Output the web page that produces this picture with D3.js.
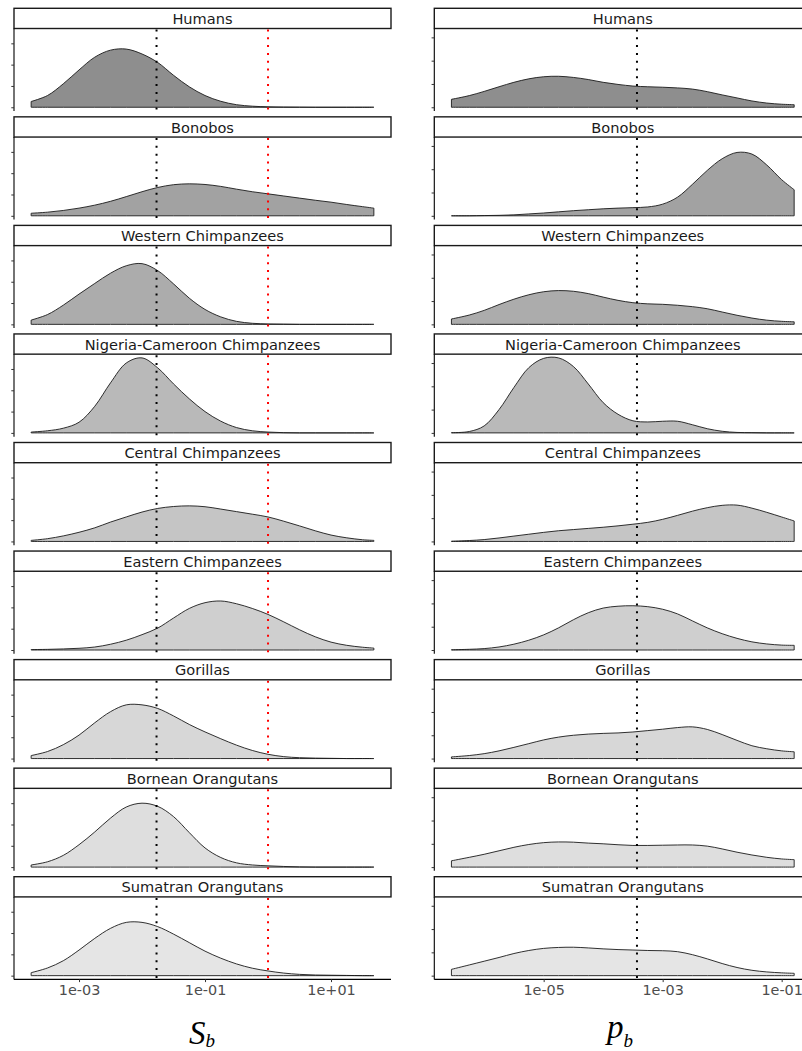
<!DOCTYPE html>
<html>
<head>
<meta charset="utf-8">
<script src="https://cdn.jsdelivr.net/npm/d3@7"></script>
<style>
  html, body { margin: 0; padding: 0; background: #fff; }
  svg { display: block; }
</style>
</head>
<body>
<svg id="chart" width="802" height="1051"></svg>
<script>
// ---------------- DATA ----------------
const populations = ["Humans", "Bonobos", "Western Chimpanzees", "Nigeria-Cameroon Chimpanzees",
  "Central Chimpanzees", "Eastern Chimpanzees", "Gorillas", "Bornean Orangutans", "Sumatran Orangutans"];

const fills = ["#8e8e8e", "#a2a2a2", "#acacac", "#b9b9b9", "#c5c5c5", "#cfcfcf", "#d7d7d7", "#dedede", "#e5e5e5"];

// log10 of S_b at which the density was read
const sbExp = [-3.76, -3.5, -3.25, -3, -2.75, -2.5, -2.25, -2, -1.75, -1.5, -1.25, -1, -0.75, -0.5, -0.25, 0, 0.25, 0.5, 0.75, 1, 1.25, 1.5, 1.68];

const sbHumans   = [0.27, 0.55, 1.1, 1.75, 2.35, 2.68, 2.73, 2.5, 2.1, 1.5, 0.96, 0.55, 0.28, 0.12, 0.05, 0.02, 0.01, 0.005, 0, 0, 0, 0, 0];
const sbBonobos  = [0.12, 0.17, 0.25, 0.36, 0.5, 0.68, 0.9, 1.13, 1.33, 1.46, 1.5, 1.47, 1.38, 1.25, 1.13, 1.03, 0.93, 0.83, 0.73, 0.64, 0.53, 0.43, 0.36];
const sbWestern  = [0.2, 0.46, 0.9, 1.42, 1.92, 2.4, 2.75, 2.85, 2.52, 1.9, 1.23, 0.7, 0.35, 0.14, 0.05, 0.02, 0.01, 0, 0, 0, 0, 0, 0];
const sbNigeria  = [0.04, 0.1, 0.22, 0.5, 1.25, 2.35, 3.28, 3.52, 3.05, 2.3, 1.6, 1.0, 0.55, 0.25, 0.1, 0.04, 0.01, 0, 0, 0, 0, 0, 0];
const sbCentral  = [0.05, 0.13, 0.26, 0.43, 0.64, 0.91, 1.15, 1.38, 1.55, 1.64, 1.67, 1.63, 1.52, 1.4, 1.28, 1.15, 0.95, 0.73, 0.5, 0.3, 0.17, 0.08, 0.05];
const sbEastern  = [0.02, 0.03, 0.05, 0.08, 0.14, 0.27, 0.46, 0.72, 1.03, 1.5, 1.95, 2.22, 2.3, 2.17, 1.95, 1.67, 1.32, 0.95, 0.62, 0.37, 0.22, 0.13, 0.09];
const sbGorillas = [0.14, 0.33, 0.65, 1.1, 1.68, 2.2, 2.52, 2.52, 2.35, 2.0, 1.6, 1.25, 0.93, 0.63, 0.38, 0.2, 0.09, 0.04, 0.02, 0.01, 0, 0, 0];
const sbBornean  = [0.1, 0.25, 0.55, 1.05, 1.65, 2.3, 2.82, 3.0, 2.85, 2.37, 1.62, 0.9, 0.45, 0.2, 0.1, 0.06, 0.03, 0.01, 0, 0, 0, 0, 0];
const sbSumatran = [0.14, 0.36, 0.7, 1.2, 1.75, 2.22, 2.5, 2.5, 2.3, 1.95, 1.55, 1.15, 0.82, 0.55, 0.35, 0.22, 0.12, 0.06, 0.03, 0.02, 0.01, 0, 0];

// log10 of p_b at which the density was read
const pbExp = [-6.55, -6.25, -6, -5.75, -5.5, -5.25, -5, -4.75, -4.5, -4.25, -4, -3.75, -3.5, -3.25, -3, -2.75, -2.5, -2.25, -2, -1.75, -1.5, -1.25, -1, -0.79];

const pbHumans   = [0.34, 0.5, 0.68, 0.88, 1.07, 1.22, 1.31, 1.33, 1.28, 1.19, 1.07, 0.98, 0.91, 0.88, 0.86, 0.83, 0.78, 0.67, 0.53, 0.4, 0.27, 0.18, 0.13, 0.11];
const pbBonobos  = [0, 0, 0.01, 0.02, 0.04, 0.08, 0.12, 0.17, 0.22, 0.26, 0.3, 0.33, 0.35, 0.38, 0.5, 0.8, 1.35, 1.95, 2.45, 2.72, 2.65, 2.18, 1.55, 1.12];
const pbWestern  = [0.23, 0.4, 0.6, 0.85, 1.08, 1.27, 1.4, 1.45, 1.42, 1.32, 1.17, 1.03, 0.93, 0.88, 0.86, 0.82, 0.76, 0.67, 0.53, 0.39, 0.27, 0.18, 0.13, 0.11];
const pbNigeria  = [0.01, 0.06, 0.3, 1.0, 1.95, 2.8, 3.2, 3.22, 2.85, 2.1, 1.3, 0.8, 0.52, 0.47, 0.5, 0.5, 0.35, 0.18, 0.07, 0.02, 0.01, 0, 0, 0];
const pbCentral  = [0.01, 0.04, 0.08, 0.15, 0.23, 0.31, 0.39, 0.46, 0.51, 0.56, 0.61, 0.67, 0.74, 0.82, 0.95, 1.12, 1.3, 1.45, 1.55, 1.56, 1.43, 1.25, 1.05, 0.88];
const pbEastern  = [0.01, 0.03, 0.06, 0.13, 0.25, 0.42, 0.65, 0.95, 1.3, 1.6, 1.8, 1.88, 1.9, 1.86, 1.75, 1.55, 1.25, 0.95, 0.7, 0.5, 0.35, 0.26, 0.21, 0.2];
const pbGorillas = [0.07, 0.13, 0.21, 0.33, 0.48, 0.64, 0.8, 0.92, 1.0, 1.05, 1.08, 1.1, 1.14, 1.2, 1.26, 1.33, 1.36, 1.25, 1.03, 0.78, 0.55, 0.42, 0.33, 0.29];
const pbBornean  = [0.27, 0.42, 0.55, 0.7, 0.85, 0.97, 1.05, 1.08, 1.07, 1.03, 1.0, 0.96, 0.93, 0.93, 0.94, 0.95, 0.95, 0.9, 0.78, 0.64, 0.52, 0.42, 0.35, 0.32];
const pbSumatran = [0.27, 0.46, 0.62, 0.78, 0.95, 1.08, 1.17, 1.21, 1.22, 1.19, 1.15, 1.12, 1.1, 1.08, 1.07, 1.03, 0.9, 0.72, 0.52, 0.35, 0.23, 0.16, 0.12, 0.1];

const sbSeries = [sbHumans, sbBonobos, sbWestern, sbNigeria, sbCentral, sbEastern, sbGorillas, sbBornean, sbSumatran];
const pbSeries = [pbHumans, pbBonobos, pbWestern, pbNigeria, pbCentral, pbEastern, pbGorillas, pbBornean, pbSumatran];

const sbTicks = [1e-3, 1e-1, 1e1];
const sbTickLabels = ["1e-03", "1e-01", "1e+01"];
const pbTicks = [1e-5, 1e-3, 1e-1];
const pbTickLabels = ["1e-05", "1e-03", "1e-01"];
const yTicks = [0, 1, 2, 3];

const sbBlackLine = 0.017;  // black dotted reference
const sbRedLine = 1;        // red dotted reference
const pbBlackLine = 3.7e-4; // black dotted reference

// ---------------- LAYOUT ----------------
const svg = d3.select("#chart");
const firstStripTop = 8.3, period = 108.55, stripH = 20.2, panelH = 82.5;
const panelW = 377;

function drawColumn(opts) {
  const { left, exps, series, ticks, tickLabels, vlines } = opts;
  const all = exps.map(e => Math.pow(10, e));
  const lo = d3.min(exps), hi = d3.max(exps);
  const pad = (hi - lo) * 0.05;
  const x = d3.scaleLog().domain([Math.pow(10, lo - pad), Math.pow(10, hi + pad)]).range([left, left + panelW]);
  const ymax = d3.max(series, s => d3.max(s));

  const g = svg.append("g");

  series.forEach((vals, i) => {
    const stripTop = firstStripTop + i * period;
    const pTop = stripTop + stripH;
    const pBot = pTop + panelH;
    const y = d3.scaleLinear().domain([-0.05 * ymax, 1.05 * ymax]).range([pBot, pTop]);
    const pts = vals.map((v, k) => [all[k], v]);

    // strip
    g.append("rect")
      .attr("x", left).attr("y", stripTop)
      .attr("width", panelW).attr("height", stripH)
      .attr("fill", "#fff").attr("stroke", "#1a1a1a").attr("stroke-width", 1.4);
    g.append("text")
      .attr("x", left + panelW / 2).attr("y", stripTop + 15.7)
      .attr("text-anchor", "middle")
      .attr("font-family", "DejaVu Sans").attr("font-size", 14.6)
      .attr("fill", "#1a1a1a")
      .text(populations[i]);

    // density
    const area = d3.area()
      .x(d => x(d[0])).y0(y(0)).y1(d => Math.min(y(0), y(d[1])))
      .curve(d3.curveCatmullRom.alpha(0.5));
    g.append("path")
      .attr("d", area(pts))
      .attr("fill", fills[i]).attr("stroke", "#1a1a1a").attr("stroke-width", 0.9)
      .attr("stroke-linejoin", "round");

    // reference lines
    vlines.forEach(vl => {
      g.append("line")
        .attr("x1", x(vl.v)).attr("x2", x(vl.v))
        .attr("y1", pTop + 1).attr("y2", pBot)
        .attr("stroke", vl.c).attr("stroke-width", 2)
        .attr("stroke-dasharray", "2 5.8");
    });

    // y axis
    const yAxis = d3.axisLeft(y).tickValues(yTicks).tickSize(2.7).tickFormat("");
    const ya = g.append("g").attr("transform", `translate(${left},0)`).call(yAxis);
    ya.select(".domain").attr("stroke", "#000").attr("stroke-width", 1.1)
      .attr("d", `M0,${pTop}V${pBot}`);
    ya.selectAll(".tick line").attr("stroke", "#333").attr("stroke-width", 1);

    if (i === series.length - 1) {
      const xAxis = d3.axisBottom(x).tickValues(ticks).tickSize(2.7)
        .tickFormat((d, k) => tickLabels[k]);
      const xa = g.append("g").attr("transform", `translate(0,${pBot})`).call(xAxis);
      xa.select(".domain").attr("stroke", "#000").attr("stroke-width", 1.1)
        .attr("d", `M${left},0H${left + panelW}`);
      xa.selectAll(".tick line").attr("stroke", "#333");
      xa.selectAll(".tick text")
        .attr("font-family", "DejaVu Sans").attr("font-size", 14.4)
        .attr("fill", "#4d4d4d").attr("dy", null).attr("y", 15.6);
    }
  });

  // axis title
  const t = g.append("text")
    .attr("x", opts.titleX).attr("y", opts.titleY)
    .attr("font-family", "Liberation Serif").attr("font-style", "italic")
    .attr("font-size", 33).attr("fill", "#000");
  t.append("tspan").text(opts.titleMain);
  t.append("tspan").attr("font-size", 19).attr("dx", opts.titleSubDx).attr("dy", opts.subDy).text("b");
}

drawColumn({
  left: 14, exps: sbExp, series: sbSeries, ticks: sbTicks, tickLabels: sbTickLabels,
  vlines: [{ v: sbBlackLine, c: "#000" }, { v: sbRedLine, c: "#ff0000" }],
  titleMain: "S", titleX: 189, titleY: 1044, titleSubDx: 0, subDy: 3
});

drawColumn({
  left: 434.3, exps: pbExp, series: pbSeries, ticks: pbTicks, tickLabels: pbTickLabels,
  vlines: [{ v: pbBlackLine, c: "#000" }],
  titleMain: "p", titleX: 607, titleY: 1038, titleSubDx: 0, subDy: 9
});
</script>
</body>
</html>
